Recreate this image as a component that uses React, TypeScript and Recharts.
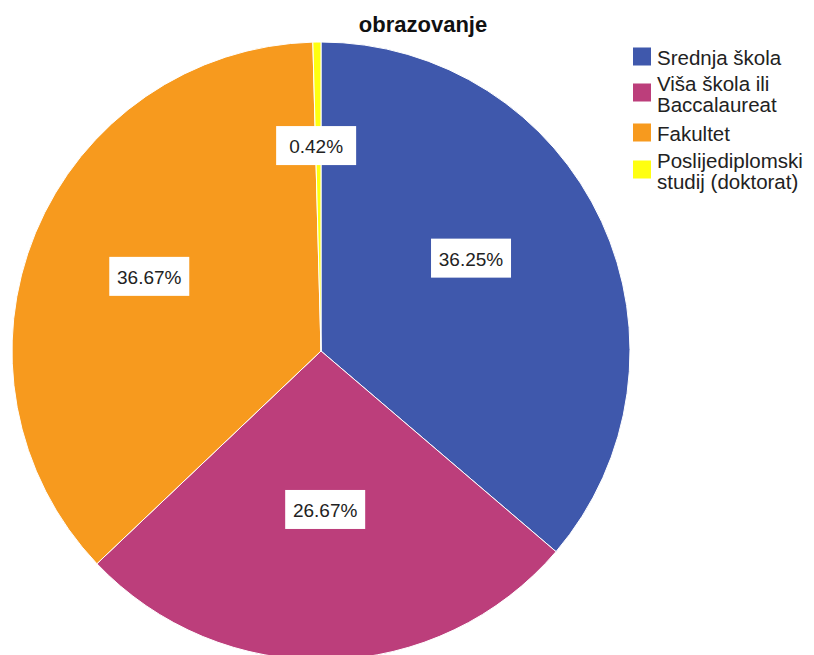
import React from "react";
import { PieChart, Pie, Cell } from "recharts";

const categories = [
  "Srednja škola",
  "Viša škola ili Baccalaureat",
  "Fakultet",
  "Poslijediplomski studij (doktorat)",
];
const percents = [36.25, 26.67, 36.67, 0.42];
const percentLabels = ["36.25%", "26.67%", "36.67%", "0.42%"];
const legendLines = [
  ["Srednja škola"],
  ["Viša škola ili", "Baccalaureat"],
  ["Fakultet"],
  ["Poslijediplomski", "studij (doktorat)"],
];
const title = "obrazovanje";

const colors = ["#3F58AC", "#BC3E7B", "#F79A1E", "#FFFF10"];
// label placement (fraction of radius, angle tweak in degrees)
const labelRadius = [0.571, 0.513, 0.606, 0.665];
const labelAngleShift = [7, 0, -1, 0.6];

const data = categories.map((name, i) => ({ name, value: percents[i] }));

const RAD = Math.PI / 180;
const FONT = "'Liberation Sans', Arial, sans-serif";

const renderLabel = (props: any) => {
  const { cx, cy, midAngle, outerRadius, index } = props;
  const a = (midAngle + labelAngleShift[index]) * RAD;
  const r = outerRadius * labelRadius[index];
  const x = cx + r * Math.cos(a);
  const y = cy - r * Math.sin(a);
  const w = 80;
  const h = 39;
  return (
    <g key={`lbl-${index}`}>
      <rect x={x - w / 2} y={y - h / 2} width={w} height={h} fill="#ffffff" />
      <text
        x={x}
        y={y + 1}
        textAnchor="middle"
        dominantBaseline="central"
        fontSize={19}
        fontFamily={FONT}
        fill="#222222"
      >
        {percentLabels[index]}
      </text>
    </g>
  );
};

const legendTops = [47, 73, 123, 150];

export default function App() {
  return (
    <div style={{ position: "absolute", left: 0, top: 0, width: 814, height: 655, background: "#fff", overflow: "hidden" }}>
      <PieChart width={814} height={655} margin={{ top: 0, right: 0, bottom: 0, left: 0 }}>
        <Pie
          data={data}
          dataKey="value"
          nameKey="name"
          cx={321}
          cy={351}
          outerRadius={309}
          startAngle={90}
          endAngle={-270}
          stroke="#ffffff"
          strokeWidth={1}
          label={renderLabel}
          labelLine={false}
          isAnimationActive={false}
        >
          {data.map((d, i) => (
            <Cell key={d.name} fill={colors[i]} />
          ))}
        </Pie>
      </PieChart>
      <div
        style={{
          position: "absolute",
          left: 0,
          width: 846,
          top: 12,
          textAlign: "center",
          fontFamily: FONT,
          fontWeight: "bold",
          fontSize: 22,
          color: "#111",
        }}
      >
        {title}
      </div>
      {categories.map((c, i) => (
        <div
          key={c}
          style={{
            position: "absolute",
            left: 633,
            top: legendTops[i],
            display: "flex",
            alignItems: "center",
            fontFamily: FONT,
            fontSize: 20.5,
            lineHeight: "21px",
            color: "#222",
          }}
        >
          <div
            style={{
              width: 18,
              height: 18,
              background: colors[i],
              marginRight: 6,
              flexShrink: 0,
              transform: "translateY(-1.5px)",
            }}
          />
          <div>
            {legendLines[i].map((l) => (
              <div key={l} style={{ whiteSpace: "nowrap" }}>{l}</div>
            ))}
          </div>
        </div>
      ))}
    </div>
  );
}
